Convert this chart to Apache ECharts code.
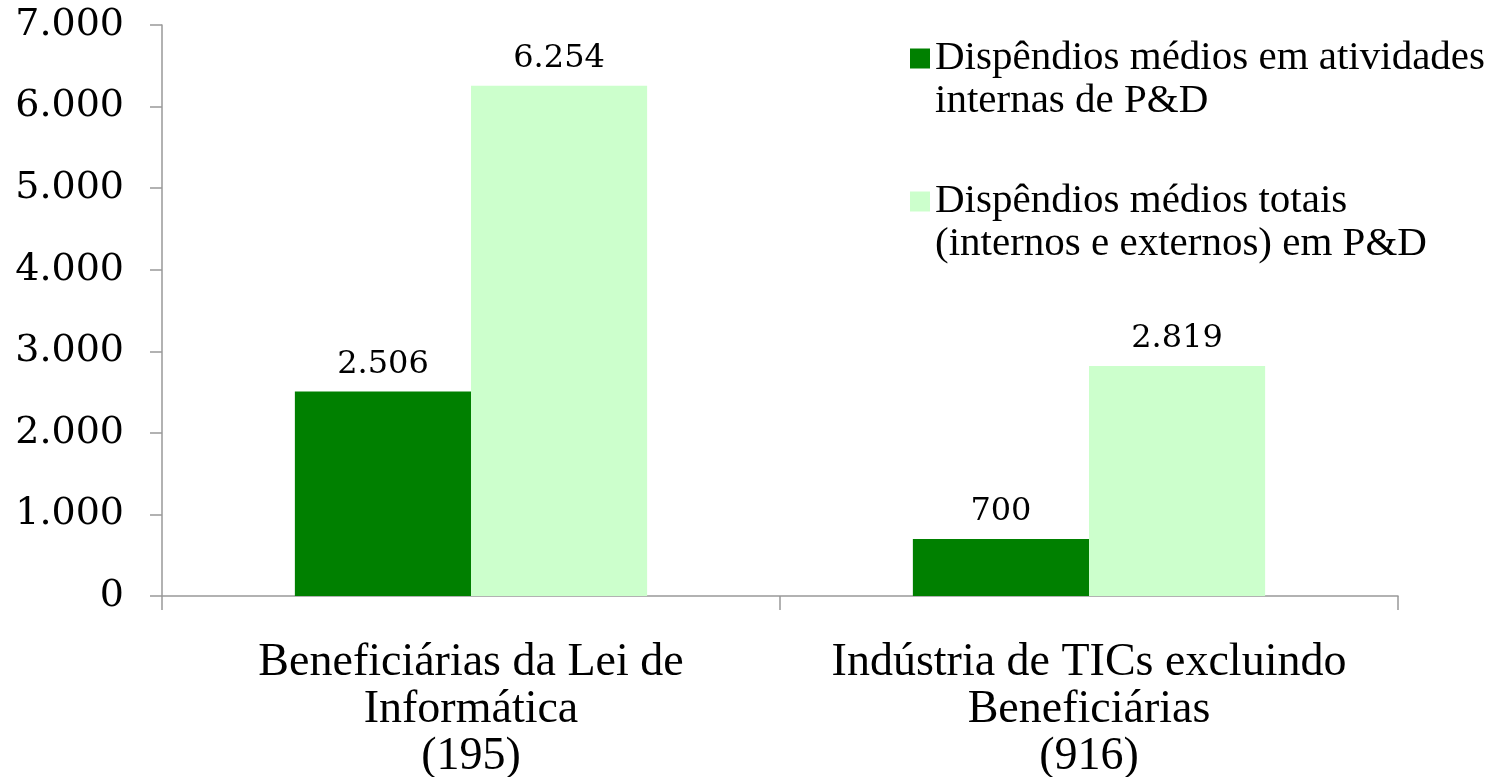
<!DOCTYPE html>
<html>
<head>
<meta charset="utf-8">
<script src="https://cdn.jsdelivr.net/npm/echarts@6/dist/echarts.min.js"></script>
<style>
  html, body { margin: 0; padding: 0; background: #fff; }
  #main { width: 1488px; height: 777px; }
</style>
</head>
<body>
<div id="main"></div>
<script>
// dados do gráfico
var categorias = ['Beneficiárias da Lei de\nInformática\n(195)', 'Indústria de TICs excluindo\nBeneficiárias\n(916)'];
var nomesSeries = ['Dispêndios médios em atividades\ninternas de P&D', 'Dispêndios médios totais\n(internos e externos) em P&D'];
var internos = [2506, 700];
var totais = [6254, 2819];
var eixoY = { min: 0, max: 7000, interval: 1000 };

function milhar(v){
	return String(v).replace(/\B(?=(\d{3})+(?!\d))/g, '.');
}

function createOption(){
	var option = {
		animation: false,
		grid: { left: 162, right: 90, top: 25, bottom: 181, outerBoundsMode: 'none', containLabel: false },
		legend: {
			orient: 'vertical',
			left: 905,
			top: -11,
			itemWidth: 20,
			itemHeight: 20,
			itemGap: 14,
			icon: 'rect',
			data: nomesSeries,
			// linha vazia antes: o quadrado fica alinhado com a 1a linha
			formatter: function(name){ return ' \n' + name; },
			textStyle: {
				fontFamily: 'Liberation Serif',
				fontSize: 41,
				lineHeight: 43,
				color: '#000'
			}
		},
		xAxis: {
			type: 'category',
			data: categorias,
			axisLine: { lineStyle: { color: '#999', width: 1.5 } },
			axisTick: { show: true, length: 14, lineStyle: { color: '#999', width: 1.5 } },
			axisLabel: {
				interval: 0,
				margin: 43,
				fontFamily: 'Liberation Serif',
				fontSize: 46,
				lineHeight: 47,
				color: '#000'
			}
		},
		yAxis: {
			type: 'value',
			min: eixoY.min,
			max: eixoY.max,
			interval: eixoY.interval,
			splitLine: { show: false },
			axisLine: { show: true, lineStyle: { color: '#999', width: 1.5 } },
			axisTick: { show: true, length: 12, lineStyle: { color: '#999', width: 1.5 } },
			axisLabel: {
				margin: 38,
				fontFamily: 'DejaVu Serif',
				fontSize: 38,
				color: '#000',
				formatter: milhar
			}
		},
		series: [
			{
				name: nomesSeries[0],
				type: 'bar',
				data: internos,
				barGap: 0,
				barCategoryGap: '43%',
				itemStyle: { color: '#008000' },
				label: {
					show: true,
					position: 'top',
					distance: 11,
					fontFamily: 'DejaVu Serif',
					fontSize: 32,
					color: '#000',
					formatter: function(p){ return milhar(p.value); }
				}
			},
			{
				name: nomesSeries[1],
				type: 'bar',
				data: totais,
				barGap: 0,
				barCategoryGap: '43%',
				itemStyle: { color: '#CCFFCC' },
				label: {
					show: true,
					position: 'top',
					distance: 11,
					fontFamily: 'DejaVu Serif',
					fontSize: 32,
					color: '#000',
					formatter: function(p){ return milhar(p.value); }
				}
			}
		]
	};
	return option;
}

var myChart = echarts.init(document.getElementById('main'));
myChart.setOption(createOption());
</script>
</body>
</html>
